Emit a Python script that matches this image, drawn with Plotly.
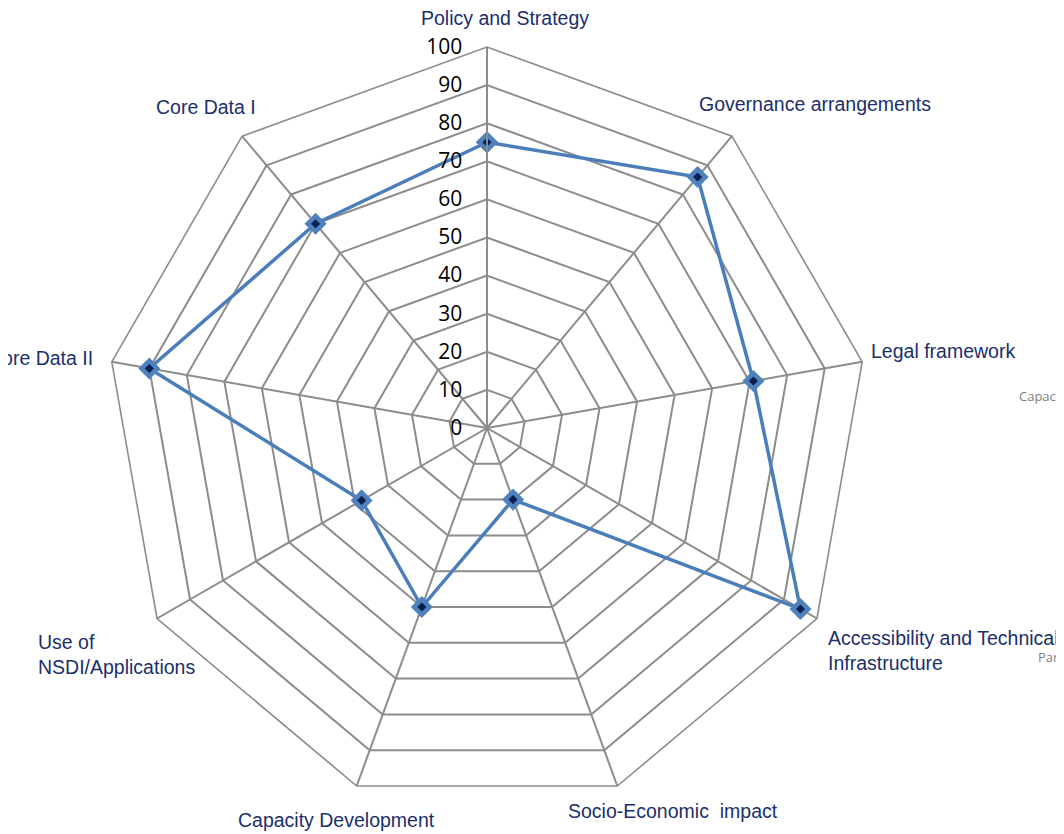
import plotly.graph_objects as go

categories = ["Policy and Strategy", "Governance arrangements", "Legal framework",
              "Accessibility and Technical Infrastructure", "Socio-Economic  impact",
              "Capacity Development", "Use of NSDI/Applications", "Core Data II", "Core Data I"]
label_text = ["Policy and Strategy", "Governance arrangements", "Legal framework",
              "Accessibility and Technical<br>Infrastructure", "Socio-Economic  impact",
              "Capacity Development", "Use of<br>NSDI/Applications", "Core Data II", "Core Data I"]
values = [75, 86, 71, 95, 20, 50, 38, 90, 70]
radial_ticks = [0, 10, 20, 30, 40, 50, 60, 70, 80, 90, 100]

# page has an 8px body margin; work in page pixels and convert
OFF = 8
W, H = 1064 - OFF, 834 - OFF
cx, cy, R = 487, 428, 381


def px(x):
    return (x - OFF) / W


def py(y):
    return 1 - (y - OFF) / H


closed_cat = categories + categories[:1]
closed_val = values + values[:1]

fig = go.Figure()
fig.add_trace(go.Scatterpolar(
    r=closed_val, theta=closed_cat, mode="lines+markers",
    line=dict(color="#4A7EBB", width=3.5),
    marker=dict(symbol="diamond", size=17, color="#4F81BD", line=dict(width=0)),
    hoverinfo="skip", showlegend=False))
fig.add_trace(go.Scatterpolar(
    r=values, theta=categories, mode="markers",
    marker=dict(symbol="diamond", size=7, color="#0B1F55"),
    hoverinfo="skip", showlegend=False))

label_font = dict(family="Liberation Sans Narrow, Arial Narrow, Liberation Sans, Arial", size=19.5, color="#1B2F6B")

fig.update_layout(
    width=W, height=H, margin=dict(l=0, r=0, t=0, b=0),
    paper_bgcolor="white",
    polar=dict(
        domain=dict(x=[px(cx - R), px(cx + R)], y=[py(cy + R), py(cy - R)]),
        bgcolor="white",
        gridshape="linear",
        radialaxis=dict(range=[0, 100], tickvals=radial_ticks,
                        ticktext=[f"{t}   " for t in radial_ticks],
                        angle=90, tickangle=90, side="counterclockwise",
                        showline=True, linecolor="#8C8C8C", linewidth=2,
                        gridcolor="#8C8C8C", gridwidth=1.6, ticks="",
                        tickfont=dict(family="Open Sans, Liberation Sans, Arial", size=21, color="black")),
        angularaxis=dict(rotation=90, direction="clockwise", showticklabels=False,
                         ticks="", showline=True, linecolor="#8C8C8C", linewidth=1.6,
                         gridcolor="#8C8C8C", gridwidth=1.6),
    ),
)

# category label positions (page pixels): x, y, xanchor
label_pos = [
    (505, 18, "center"), (697, 104, "left"), (869, 351, "left"), (826, 650, "left"),
    (566, 811, "left"), (236, 820, "left"), (36, 654, "left"), (95, 358, "right"), (258, 107, "right"),
]
for txt, (x, y, xa) in zip(label_text, label_pos):
    fig.add_annotation(x=px(x), y=py(y), xref="paper", yref="paper", text=txt,
                       showarrow=False, xanchor=xa, yanchor="middle", align="left",
                       font=label_font)

# clipped fragments at right edge
fig.add_annotation(x=px(1017), y=py(396), xref="paper", yref="paper", text="Capaci",
                   showarrow=False, xanchor="left", yanchor="middle",
                   font=dict(family="Open Sans, Liberation Sans", size=13, color="#7F7F7F"))
fig.add_annotation(x=px(1036), y=py(657), xref="paper", yref="paper", text="Part",
                   showarrow=False, xanchor="left", yanchor="middle",
                   font=dict(family="Open Sans, Liberation Sans", size=13, color="#7F7F7F"))
fig.add_shape(type="line", xref="paper", yref="paper", x0=px(999), x1=1.0, y0=py(4), y1=py(4),
              line=dict(color="#D9D9D9", width=3))

fig.write_html("out.html")
